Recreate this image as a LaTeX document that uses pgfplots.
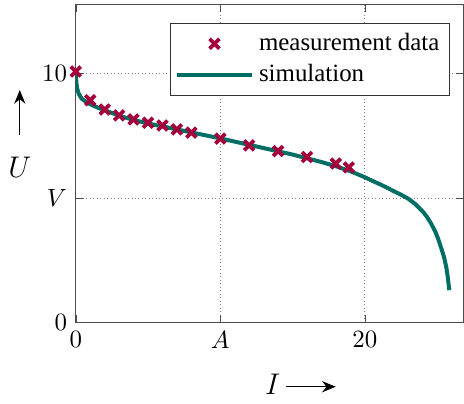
\documentclass[border=0pt]{standalone}
\usepackage{fontspec}
\setmainfont{Liberation Serif}
\usepackage{pgfplots}
\pgfplotsset{compat=1.18}
\usetikzlibrary{arrows.meta}
\definecolor{meas}{RGB}{165,0,60}
\definecolor{sim}{RGB}{0,110,100}
\begin{document}
\begin{tikzpicture}
\begin{axis}[
    scale only axis,
    width=155.6pt,
    height=127.6pt,
    xmin=0, xmax=26.8,
    ymin=0, ymax=12.76,
    xtick={0,10,20},
    xticklabels={$0$,$A$,$20$},
    ytick={0,5,10},
    yticklabels={$0$,$V$,$10$},
    grid=major,
    major grid style={densely dotted, gray, thin},
    axis line style={black!70},
    tick style={black!70},
    tick align=inside,
    major tick length=3pt,
    label style={font=\large},
    xlabel={$I$\,\tikz[baseline=-0.6ex]\draw[-{Stealth[length=5.5pt,width=4.5pt]},line width=0.5pt] (0,0)--(20pt,0);},
    xlabel style={at={(axis description cs:0.581,0)}, anchor=center, yshift=-25pt},
    ylabel={\tikz\draw[-{Stealth[length=5.5pt,width=4.5pt]},line width=0.5pt] (0,0)--(0,18pt);\\[3pt]$U$},
    ylabel style={rotate=-90, align=center, at={(axis description cs:0,0.595)}, anchor=center, xshift=-22.5pt},
    legend style={
      at={(0.966,0.944)},
      anchor=north east,
      draw=black!80,
      inner xsep=2pt,
      cells={anchor=west},
      font=\normalsize,
    },
    legend image code/.code={%
      \draw[mark repeat=2,mark phase=2,#1] plot coordinates {(0cm,0cm) (0.53cm,0cm) (1.06cm,0cm)};},
]

  % measurement
  \addplot[only marks, mark=x, mark size=2.8pt, meas, line width=1.5pt] coordinates {
    (0,10.09) (1.0,8.93) (2.0,8.56) (3.0,8.32) (4.0,8.16) (5.0,8.03)
    (6.0,7.92) (7.0,7.76) (8.0,7.63) (10.0,7.39) (12.0,7.12) (14.0,6.89)
    (16.0,6.65) (18.0,6.39) (18.9,6.23)
  };

  % simulation
  \addplot[sim, line width=1.6pt, line join=round] coordinates {
    (0,10.0) (0.05,9.6) (0.1,9.4) (0.2,9.2) (0.4,9.0) (0.7,8.87) (1,8.77)
    (1.5,8.64) (2,8.53) (3,8.31) (4,8.14) (5,8.0) (6,7.88) (7,7.76) (8,7.64)
    (9,7.52) (10,7.4) (11,7.27) (12,7.14) (13,7.01) (14,6.88) (15,6.75)
    (16,6.6) (17,6.45) (18,6.28) (19,6.08) (20,5.84) (20.5,5.7) (21,5.57)
    (21.5,5.43) (22,5.28) (22.5,5.14) (23,4.98) (23.5,4.76) (24,4.47)
    (24.3,4.25) (24.6,3.97) (24.9,3.63) (25.1,3.33) (25.3,2.98) (25.5,2.6)
    (25.65,2.2) (25.75,1.8) (25.85,1.3)
  };

  \legend{measurement data,simulation}
\end{axis}
\path (current axis.south west) ++(-29.6pt,-30.8pt);
\path (current axis.north east) ++(0.4pt,2pt);
\end{tikzpicture}
\end{document}
